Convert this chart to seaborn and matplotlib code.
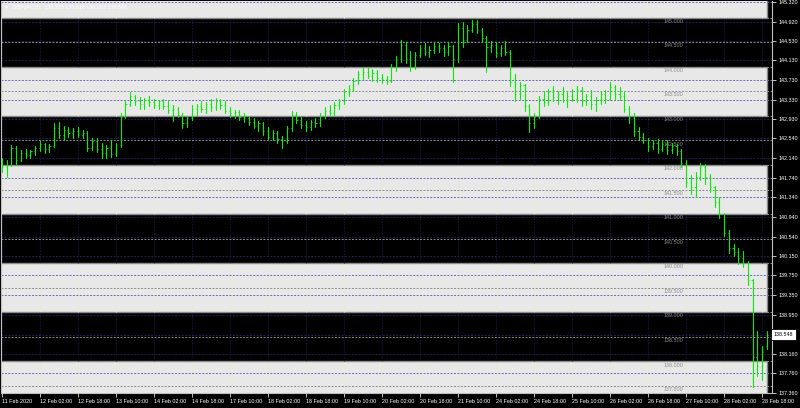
import numpy as np
import pandas as pd
import matplotlib
matplotlib.use("Agg")
import matplotlib.pyplot as plt
import seaborn as sns
from matplotlib.patches import Rectangle

# --- data ---
symbol = "GBPJPY,H1"
ohlc_last = "138.323 138.610 138.253 138.548"
last_price = 138.548

opens = [142.05, 141.95, 142.00, 142.35, 142.10, 142.25, 142.20, 142.28, 142.35, 142.42,
         142.32, 142.38, 142.75, 142.62, 142.72, 142.65, 142.70, 142.62, 142.66, 142.35,
         142.48, 142.32, 142.25, 142.35, 142.22, 142.40, 142.98, 143.25, 143.40, 143.30,
         143.25, 143.32, 143.28, 143.22, 143.30, 143.20, 143.12, 143.15, 143.02, 142.85,
         142.95, 143.15, 143.20, 143.15, 143.25, 143.18, 143.30, 143.22, 143.10, 143.05,
         143.08, 142.98, 142.95, 142.88, 142.80, 142.85, 142.70, 142.58, 142.65, 142.52,
         142.48, 142.75, 143.02, 142.92, 142.82, 142.78, 142.88, 142.85, 143.00, 143.10,
         143.05, 143.22, 143.30, 143.48, 143.55, 143.72, 143.85, 143.90, 143.82, 143.88,
         143.78, 143.75, 143.72, 144.00, 144.15, 144.45, 144.15, 144.00, 144.25, 144.38,
         144.30, 144.35, 144.42, 144.38, 144.30, 144.42, 144.15, 144.80, 144.55, 144.75,
         144.88, 144.75, 144.58, 144.40, 144.45, 144.28, 144.38, 144.30, 143.70, 143.45,
         143.62, 143.20, 142.85, 142.98, 143.35, 143.28, 143.48, 143.38, 143.45, 143.32,
         143.40, 143.35, 143.52, 143.30, 143.40, 143.25, 143.32, 143.45, 143.35, 143.58,
         143.45, 143.40, 143.15, 142.95, 142.70, 142.58, 142.50, 142.38, 142.45, 142.32,
         142.42, 142.30, 142.38, 142.28, 142.05, 141.65, 141.55, 141.75, 141.95, 141.75,
         141.55, 141.25, 141.00, 140.62, 140.30, 140.22, 140.10, 140.00, 139.65, 138.10,
         137.90, 138.323]
highs = [142.14, 142.10, 142.40, 142.38, 142.30, 142.32, 142.30, 142.38, 142.48, 142.45,
         142.42, 142.85, 142.88, 142.80, 142.78, 142.76, 142.78, 142.72, 142.70, 142.55,
         142.55, 142.45, 142.40, 142.50, 142.45, 143.05, 143.30, 143.48, 143.42, 143.38,
         143.36, 143.40, 143.35, 143.32, 143.34, 143.30, 143.22, 143.18, 143.05, 143.00,
         143.22, 143.25, 143.30, 143.28, 143.35, 143.36, 143.34, 143.30, 143.18, 143.12,
         143.12, 143.05, 143.00, 142.95, 142.90, 142.88, 142.78, 142.72, 142.70, 142.60,
         142.80, 143.10, 143.08, 142.98, 142.90, 142.92, 142.95, 143.05, 143.18, 143.22,
         143.28, 143.35, 143.55, 143.62, 143.78, 143.92, 144.00, 143.98, 143.95, 143.94,
         143.85, 143.82, 144.05, 144.22, 144.55, 144.50, 144.32, 144.30, 144.45, 144.48,
         144.42, 144.50, 144.48, 144.45, 144.50, 144.45, 144.90, 144.92, 144.85, 144.96,
         144.95, 144.80, 144.62, 144.52, 144.50, 144.45, 144.52, 144.35, 143.85, 143.70,
         143.65, 143.25, 143.05, 143.40, 143.50, 143.55, 143.60, 143.50, 143.58, 143.48,
         143.55, 143.60, 143.58, 143.45, 143.52, 143.38, 143.50, 143.52, 143.70, 143.62,
         143.58, 143.48, 143.20, 143.05, 142.78, 142.65, 142.55, 142.50, 142.52, 142.48,
         142.50, 142.45, 142.42, 142.32, 142.10, 141.80, 141.85, 142.05, 142.02, 141.82,
         141.58, 141.35, 141.02, 140.68, 140.40, 140.32, 140.25, 140.05, 139.68, 138.62,
         138.32, 138.610]
lows = [141.86, 141.75, 141.98, 142.00, 142.08, 142.14, 142.15, 142.20, 142.28, 142.25,
        142.26, 142.36, 142.55, 142.50, 142.58, 142.56, 142.58, 142.55, 142.28, 142.30,
        142.27, 142.15, 142.14, 142.16, 142.18, 142.37, 142.95, 143.20, 143.22, 143.15,
        143.14, 143.20, 143.16, 143.14, 143.15, 143.05, 142.90, 142.98, 142.75, 142.78,
        142.92, 143.02, 143.08, 143.05, 143.10, 143.12, 143.15, 143.05, 142.98, 142.95,
        142.92, 142.88, 142.82, 142.75, 142.70, 142.62, 142.52, 142.50, 142.45, 142.35,
        142.45, 142.70, 142.85, 142.75, 142.70, 142.72, 142.78, 142.80, 142.95, 143.00,
        143.02, 143.15, 143.25, 143.40, 143.50, 143.65, 143.75, 143.78, 143.72, 143.70,
        143.66, 143.65, 143.70, 143.92, 144.10, 144.08, 143.92, 143.95, 144.20, 144.25,
        144.20, 144.28, 144.30, 144.22, 144.25, 143.70, 144.10, 144.40, 144.50, 144.70,
        144.68, 144.50, 143.90, 144.30, 144.20, 144.22, 144.25, 143.60, 143.30, 143.35,
        143.10, 142.68, 142.75, 142.95, 143.20, 143.22, 143.30, 143.25, 143.28, 143.18,
        143.30, 143.28, 143.20, 143.22, 143.15, 143.10, 143.25, 143.26, 143.32, 143.35,
        143.32, 143.08, 142.85, 142.60, 142.50, 142.45, 142.28, 142.32, 142.25, 142.28,
        142.22, 142.25, 142.20, 141.95, 141.55, 141.40, 141.35, 141.70, 141.62, 141.45,
        141.15, 140.92, 140.55, 140.20, 140.15, 139.98, 139.92, 139.55, 137.48, 137.70,
        137.62, 138.253]
closes = [141.95, 142.00, 142.35, 142.10, 142.25, 142.20, 142.28, 142.35, 142.42, 142.32,
          142.38, 142.75, 142.62, 142.72, 142.65, 142.70, 142.62, 142.66, 142.35, 142.48,
          142.32, 142.25, 142.35, 142.22, 142.40, 142.98, 143.25, 143.40, 143.30, 143.25,
          143.32, 143.28, 143.22, 143.30, 143.20, 143.12, 143.15, 143.02, 142.85, 142.95,
          143.15, 143.20, 143.15, 143.25, 143.18, 143.30, 143.22, 143.10, 143.05, 143.08,
          142.98, 142.95, 142.88, 142.80, 142.85, 142.70, 142.58, 142.65, 142.52, 142.48,
          142.75, 143.02, 142.92, 142.82, 142.78, 142.88, 142.85, 143.00, 143.10, 143.05,
          143.22, 143.30, 143.48, 143.55, 143.72, 143.85, 143.90, 143.82, 143.88, 143.78,
          143.75, 143.72, 144.00, 144.15, 144.45, 144.15, 144.00, 144.25, 144.38, 144.30,
          144.35, 144.42, 144.38, 144.30, 144.42, 144.15, 144.80, 144.55, 144.75, 144.88,
          144.75, 144.58, 144.40, 144.45, 144.28, 144.38, 144.30, 143.70, 143.45, 143.62,
          143.20, 142.85, 142.98, 143.35, 143.28, 143.48, 143.38, 143.45, 143.32, 143.40,
          143.35, 143.52, 143.30, 143.40, 143.25, 143.32, 143.45, 143.35, 143.58, 143.45,
          143.40, 143.15, 142.95, 142.70, 142.58, 142.50, 142.38, 142.45, 142.32, 142.42,
          142.30, 142.38, 142.28, 142.05, 141.65, 141.55, 141.75, 141.95, 141.75, 141.55,
          141.25, 141.00, 140.62, 140.30, 140.22, 140.10, 140.00, 139.65, 138.10, 137.90,
          138.20, 138.548]

date_labels = ["11 Feb 2020", "12 Feb 02:00", "12 Feb 18:00", "13 Feb 10:00", "14 Feb 02:00",
               "14 Feb 18:00", "17 Feb 10:00", "18 Feb 02:00", "18 Feb 18:00", "19 Feb 10:00",
               "20 Feb 02:00", "20 Feb 18:00", "21 Feb 10:00", "24 Feb 02:00", "24 Feb 18:00",
               "25 Feb 10:00", "26 Feb 02:00", "26 Feb 18:00", "27 Feb 10:00", "28 Feb 02:00",
               "28 Feb 18:00"]
bars_per_label = 8

price_ticks = [145.320, 144.920, 144.530, 144.130, 143.730, 143.330, 142.930, 142.540,
               142.140, 141.740, 141.340, 140.940, 140.540, 140.150, 139.750, 139.350,
               138.950, 138.548, 138.160, 137.760, 137.360]
level_lines = [145.0, 144.5, 144.0, 143.5, 143.0, 142.5, 142.0, 141.5, 141.0, 140.5,
               140.0, 139.5, 139.0, 138.5, 138.0, 137.5]
gray_zones = [(145.0, 146.0), (143.0, 144.0), (141.0, 142.0), (139.0, 140.0), (137.0, 138.0)]
black_zones = [(144.0, 145.0), (142.0, 143.0), (140.0, 141.0), (138.0, 139.0)]

# --- style ---
sns.set_theme(style="dark")
plt.rcParams['font.family'] = ['Liberation Sans', 'DejaVu Sans']
fs = 3.9
bar_col = "#00f000"

fig = plt.figure(figsize=(8, 4.08), dpi=100, facecolor="black")
ax = fig.add_axes([1 / 800, 15 / 408, 771 / 800, 392 / 408])
ax.set_facecolor("black")

n = len(closes)
idx = np.arange(n)
ymin, ymax = 137.357, 145.340
xmin, xmax = -0.2, 162.1
ax.set_xlim(xmin, xmax)
ax.set_ylim(ymin, ymax)

# background zones (drawn as background objects)
for lo, hi in gray_zones:
    ax.add_patch(Rectangle((xmin - 2, lo), (n - 1) - (xmin - 2), hi - lo,
                           facecolor="#e8e8e8", edgecolor="#8a8a8a", lw=1.0, zorder=0.5))

# vertical grid, coloured per zone
xt = idx[::bars_per_label]
for lo, hi in gray_zones:
    ax.vlines(xt, max(lo, ymin), min(hi, ymax), colors="#ecebc4", lw=0.7,
              linestyles=(0, (1.5, 1.5)), zorder=1)
for lo, hi in black_zones:
    ax.vlines(xt, lo, hi, colors="#161648", lw=0.7, linestyles=(0, (1.5, 1.5)), zorder=1)

# horizontal grid at price ticks
for p in price_ticks:
    in_gray = any(lo <= p <= hi for lo, hi in gray_zones)
    ax.axhline(p, color="#6a6ab4" if in_gray else "#20205a", lw=0.7,
               ls=(0, (2, 1.5)), zorder=1)

# horizontal level lines with labels
for lv in level_lines:
    ax.axhline(lv, color="#8c8c8c", lw=0.7, ls=(0, (2, 1.5)), zorder=1.2)
    ax.annotate(f"{lv:.3f}", (141.3, lv), xytext=(0, -0.8), textcoords="offset points",
                ha="center", va="top", fontsize=fs, color="#8c8c8c", zorder=1.5)

# OHLC bars: high-low stems via seaborn, open/close ticks
stems = pd.DataFrame({"bar": np.repeat(idx, 2),
                      "price": np.column_stack([lows, highs]).ravel()})
sns.lineplot(data=stems, x="bar", y="price", units="bar", estimator=None, sort=False,
             color=bar_col, lw=0.8, ax=ax, legend=False, zorder=3)
ax.hlines(opens, idx - 0.25, idx, colors=bar_col, lw=0.6, zorder=3)
ax.hlines(closes, idx, idx + 0.25, colors=bar_col, lw=0.6, zorder=3)

# axes
ax.set_xlabel("")
ax.set_ylabel("")
ax.yaxis.tick_right()
ax.set_yticks(price_ticks)
ax.set_yticklabels(["" if p == last_price else f"{p:.3f}" for p in price_ticks])
ax.set_xticks(xt)
ax.set_xticklabels(date_labels, ha="left")
ax.tick_params(axis="y", right=True, left=False, length=3, width=0.7, color="#c0c0c0",
               labelsize=fs, labelcolor="white", pad=2)
ax.tick_params(axis="x", bottom=True, length=3, width=0.7, color="#c0c0c0",
               labelsize=fs, labelcolor="white", pad=1.5)
ax.grid(False)
for s in ax.spines.values():
    s.set_visible(True)
    s.set_color("#c0c0c0")
    s.set_linewidth(0.8)
ax.spines["top"].set_visible(False)

# current price box on the price scale
ax.text(1 + 2 / 771, last_price, f"{last_price:.3f}", transform=ax.get_yaxis_transform(),
        ha="left", va="center", fontsize=fs, color="black", clip_on=False,
        bbox=dict(boxstyle="square,pad=0.5", fc="white", ec="black", lw=0.6))

# symbol header
ax.text(0.004, 0.992, f"\u25bc  {symbol}  {ohlc_last}", transform=ax.transAxes,
        ha="left", va="top", fontsize=fs, color="white", zorder=4)

fig.savefig("out.png", dpi=100, facecolor="black")
